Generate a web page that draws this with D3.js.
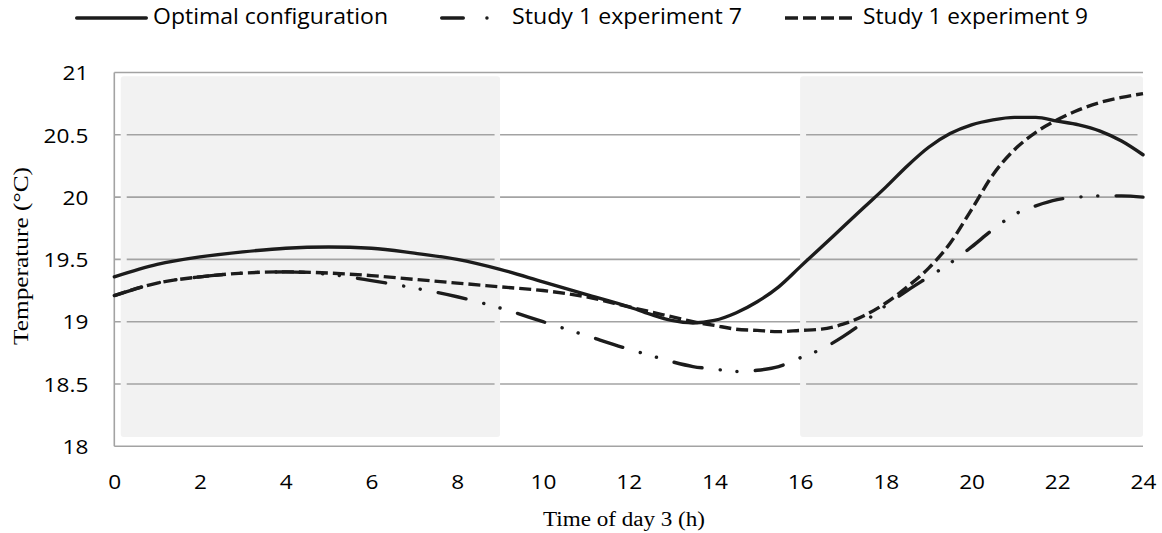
<!DOCTYPE html>
<html>
<head>
<meta charset="utf-8">
<script src="https://cdn.jsdelivr.net/npm/d3@7"></script>
<style>
  html, body { margin: 0; padding: 0; background: #fff; }
  svg { display: block; }
</style>
</head>
<body>
<svg id="chart" width="1162" height="533"></svg>
<script>
// Hour of day 3 at which each temperature was sampled
const hours = [0,1,2,3,4,5,6,7,8,9,10,11,12,12.5,13,13.5,14,14.5,15,15.5,16,16.5,17,17.5,18,18.5,19,19.5,20,20.5,21,21.5,22,22.5,23,23.5,24];

// Indoor temperature (°C)
const optimal = [19.36,19.46,19.52,19.56,19.59,19.60,19.59,19.55,19.50,19.42,19.32,19.22,19.12,19.06,19.01,18.99,19.01,19.07,19.16,19.28,19.44,19.60,19.76,19.92,20.08,20.25,20.40,20.51,20.58,20.62,20.64,20.64,20.61,20.58,20.53,20.45,20.34];
const exp7 = [19.21,19.31,19.36,19.39,19.40,19.38,19.33,19.27,19.20,19.11,19.00,18.89,18.78,18.73,18.68,18.64,18.62,18.60,18.61,18.64,18.71,18.78,18.88,19.00,19.13,19.25,19.36,19.47,19.60,19.74,19.86,19.93,19.98,20.00,20.01,20.01,20.00];
const exp9 = [19.21,19.31,19.36,19.39,19.40,19.39,19.37,19.34,19.31,19.28,19.25,19.20,19.12,19.08,19.04,19.00,18.97,18.94,18.93,18.92,18.93,18.94,18.98,19.05,19.15,19.28,19.43,19.63,19.90,20.18,20.38,20.52,20.62,20.70,20.76,20.80,20.83];

const seriesNames = ["Optimal configuration", "Study 1 experiment 7", "Study 1 experiment 9"];

// Shaded time periods (h)
const shadedPeriods = [[0.15, 9], [16, 24]];

const xTicks = [0,2,4,6,8,10,12,14,16,18,20,22,24];
const yTicks = [18,18.5,19,19.5,20,20.5,21];

const xTitle = "Time of day 3 (h)";
const yTitle = "Temperature (°C)";

// ---- drawing ----
const svg = d3.select("#chart");
const ink = "#1c1c1c";
const gridColor = "#a3a3a3";
const sansFont = "'Open Sans', 'Noto Sans', sans-serif";
const serifFont = "'Liberation Serif', 'DejaVu Serif', serif";
const widen = 1.13; // horizontal widening of the sans labels

const x = d3.scaleLinear().domain([0, 24]).range([114.3, 1143]);
const y = d3.scaleLinear().domain([18, 21]).range([446.3, 72.5]);

const styles = [
  { dash: null, cap: "round", legendDash: null },
  { dash: "28.5,18.3,0.1,16.7,0.1,18.3", cap: "round", legendDash: "21.6,23.6,0.1,40" },
  { dash: "12,5", cap: "butt", legendDash: "13,5" }
];

// gridlines
const grid = svg.append("g");
grid.selectAll("line")
  .data(yTicks.filter(d => d > 18))
  .join("line")
  .attr("x1", x(0)).attr("x2", x(24))
  .attr("y1", d => y(d)).attr("y2", d => y(d))
  .attr("stroke", gridColor).attr("stroke-width", 1.6);

// shaded periods, with gridlines repeated inside
const boxTop = y(20.97), boxBottom = y(18.075);
const shade = svg.append("g");
shadedPeriods.forEach(([a, b]) => {
  shade.append("rect")
    .attr("x", x(a)).attr("y", boxTop)
    .attr("width", x(b) - x(a)).attr("height", boxBottom - boxTop)
    .attr("rx", 3).attr("fill", "#f2f2f2");
  shade.selectAll(null)
    .data(yTicks.filter(d => d > 18 && d < 21))
    .join("line")
    .attr("x1", x(a) + 6).attr("x2", x(b) - 5.5)
    .attr("y1", d => y(d)).attr("y2", d => y(d))
    .attr("stroke", gridColor).attr("stroke-width", 1.6);
});

// axis lines
svg.append("line")
  .attr("x1", x(0)).attr("x2", x(0)).attr("y1", y(21)).attr("y2", y(18))
  .attr("stroke", gridColor).attr("stroke-width", 1.6);
svg.append("line")
  .attr("x1", x(0)).attr("x2", x(24)).attr("y1", y(18)).attr("y2", y(18))
  .attr("stroke", gridColor).attr("stroke-width", 1.6);

function stretch(sel) {
  sel.each(function () {
    const w = this.getComputedTextLength();
    d3.select(this).attr("textLength", w * widen).attr("lengthAdjust", "spacingAndGlyphs");
  });
}

// tick labels
const xAxis = d3.axisBottom(x).tickValues(xTicks).tickSize(0).tickPadding(0).tickFormat(d3.format("d"));
const gx = svg.append("g").attr("transform", `translate(0,${y(18)})`).call(xAxis);
gx.select(".domain").remove();
gx.selectAll("text")
  .attr("y", 42.5).attr("dy", null)
  .attr("font-family", sansFont).attr("font-size", 20).attr("fill", "#000")
  .call(stretch);

const yAxis = d3.axisLeft(y).tickValues(yTicks).tickSize(0).tickPadding(0).tickFormat(d => String(d));
const gy = svg.append("g").attr("transform", `translate(${x(0)},0)`).call(yAxis);
gy.select(".domain").remove();
gy.selectAll("text")
  .attr("x", -26).attr("dy", "0.36em")
  .attr("font-family", sansFont).attr("font-size", 20).attr("fill", "#000")
  .call(stretch);

// axis titles
svg.append("text")
  .attr("x", 543).attr("y", 526)
  .attr("font-family", serifFont).attr("font-size", 20).attr("fill", "#000")
  .attr("textLength", 162).attr("lengthAdjust", "spacingAndGlyphs")
  .text(xTitle);
svg.append("text")
  .attr("transform", `translate(28,345) rotate(-90)`)
  .attr("font-family", serifFont).attr("font-size", 21).attr("fill", "#000")
  .attr("textLength", 178).attr("lengthAdjust", "spacingAndGlyphs")
  .text(yTitle);

// series lines
const line = d3.line()
  .x((d, i) => x(hours[i]))
  .y(d => y(d))
  .curve(d3.curveMonotoneX);

const allSeries = [optimal, exp7, exp9];
svg.append("g").selectAll("path")
  .data(allSeries)
  .join("path")
  .attr("d", d => line(d))
  .attr("fill", "none")
  .attr("stroke", ink)
  .attr("stroke-width", 3.4)
  .attr("stroke-linecap", (d, i) => styles[i].cap)
  .attr("stroke-linejoin", "round")
  .attr("stroke-dasharray", (d, i) => styles[i].dash);

// legend
const legendItems = [
  { x1: 76.7, x2: 146.3, tx: 153, tw: 235 },
  { x1: 441.7, x2: 488, tx: 512, tw: 230 },
  { x1: 785, x2: 852, tx: 863, tw: 225 }
];
const legend = svg.append("g");
legendItems.forEach((it, i) => {
  legend.append("line")
    .attr("x1", it.x1).attr("x2", it.x2).attr("y1", 18).attr("y2", 18)
    .attr("stroke", ink).attr("stroke-width", 3.4)
    .attr("stroke-linecap", styles[i].cap)
    .attr("stroke-dasharray", styles[i].legendDash);
  legend.append("text")
    .attr("x", it.tx).attr("y", 23.5)
    .attr("font-family", sansFont).attr("font-size", 21).attr("fill", "#000")
    .attr("textLength", it.tw).attr("lengthAdjust", "spacingAndGlyphs")
    .text(seriesNames[i]);
});
</script>
</body>
</html>
